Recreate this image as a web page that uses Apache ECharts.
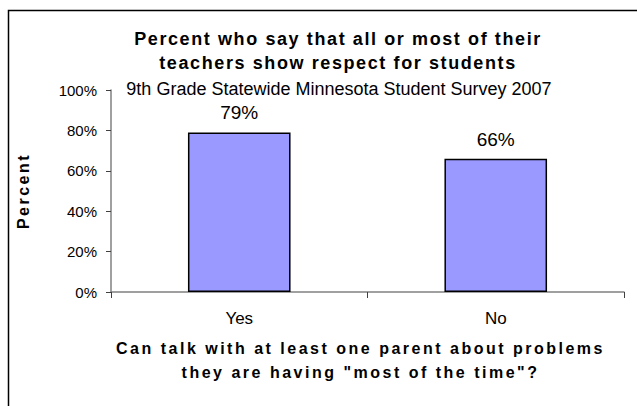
<!DOCTYPE html>
<html><head><meta charset="utf-8">
<script src="https://cdn.jsdelivr.net/npm/echarts@6/dist/echarts.min.js"></script>
<style>
html,body{margin:0;padding:0;background:#fff}#c{width:637px;height:406px}
#c svg text[style*="bold"][style*="18px"], #c svg text[font-weight="bold"][font-size="18px"]{letter-spacing:1.6px}
#c svg text[style*="bold"][style*="16px"], #c svg text[font-weight="bold"][font-size="16px"]{letter-spacing:2.5px}
</style>
</head><body><div id="c"></div>
<script>
const categories = ['Yes', 'No'];
const percentValues = [79, 66];
const yTicks = [0, 20, 40, 60, 80, 100];
const titleText = 'Percent who say that all or most of their\nteachers show respect for students';
const subtitleText = '9th Grade Statewide Minnesota Student Survey 2007';
const xName = 'Can talk with at least one parent about problems\nthey are having "most of the time"?';
const yName = 'Percent';

const FF = '"Liberation Sans", Arial, sans-serif';
const chart = echarts.init(document.getElementById('c'), null, {renderer: 'svg'});
chart.setOption({
  animation: false,
  backgroundColor: '#fff',
  graphic: [{
    type: 'rect', silent: true, z: -1,
    shape: {x: 8.5, y: 10.5, width: 1000, height: 1000},
    style: {fill: 'none', stroke: '#000', lineWidth: 1.5}
  }],
  title: [{
    text: titleText, left: 333, top: 22, textAlign: 'center',
    textStyle: {fontFamily: FF, fontWeight: 'bold', fontSize: 18, lineHeight: 24, color: '#000'}
  }, {
    text: subtitleText, left: 334, top: 74, textAlign: 'center',
    textStyle: {fontFamily: FF, fontWeight: 'normal', fontSize: 18, lineHeight: 20, color: '#000'}
  }],
  grid: {left: 111, right: 13, top: 90, bottom: 114},
  xAxis: {
    type: 'category', data: categories,
    axisLine: {lineStyle: {color: '#808080', width: 1.5}},
    axisTick: {show: true, length: 6, lineStyle: {color: '#404040'}},
    axisLabel: {fontFamily: FF, fontSize: 17, color: '#000', margin: 18},
    name: xName, nameLocation: 'middle', nameGap: 44,
    nameTextStyle: {fontFamily: FF, fontWeight: 'bold', fontSize: 16, lineHeight: 24, color: '#000',
      padding: [0, 14, 0, 0]}
  },
  yAxis: {
    type: 'value', min: 0, max: 100, interval: 20,
    axisLine: {show: true, lineStyle: {color: '#808080', width: 1.5}},
    axisTick: {show: true, length: 5, lineStyle: {color: '#404040'}},
    splitLine: {show: false},
    axisLabel: {fontFamily: FF, fontSize: 15, color: '#000', margin: 14,
      formatter: v => yTicks.includes(v) ? v + '%' : ''},
    name: yName, nameLocation: 'middle', nameGap: 80, nameRotate: 90,
    nameTextStyle: {fontFamily: FF, fontWeight: 'bold', fontSize: 16, color: '#000'}
  },
  series: [{
    type: 'bar', data: percentValues, barWidth: '40%',
    itemStyle: {color: '#9999FF', borderColor: '#000', borderWidth: 1.5},
    label: {show: true, position: 'top', distance: 10, formatter: '{c}%',
      fontFamily: FF, fontSize: 19, color: '#000'}
  }]
});
</script></body></html>
